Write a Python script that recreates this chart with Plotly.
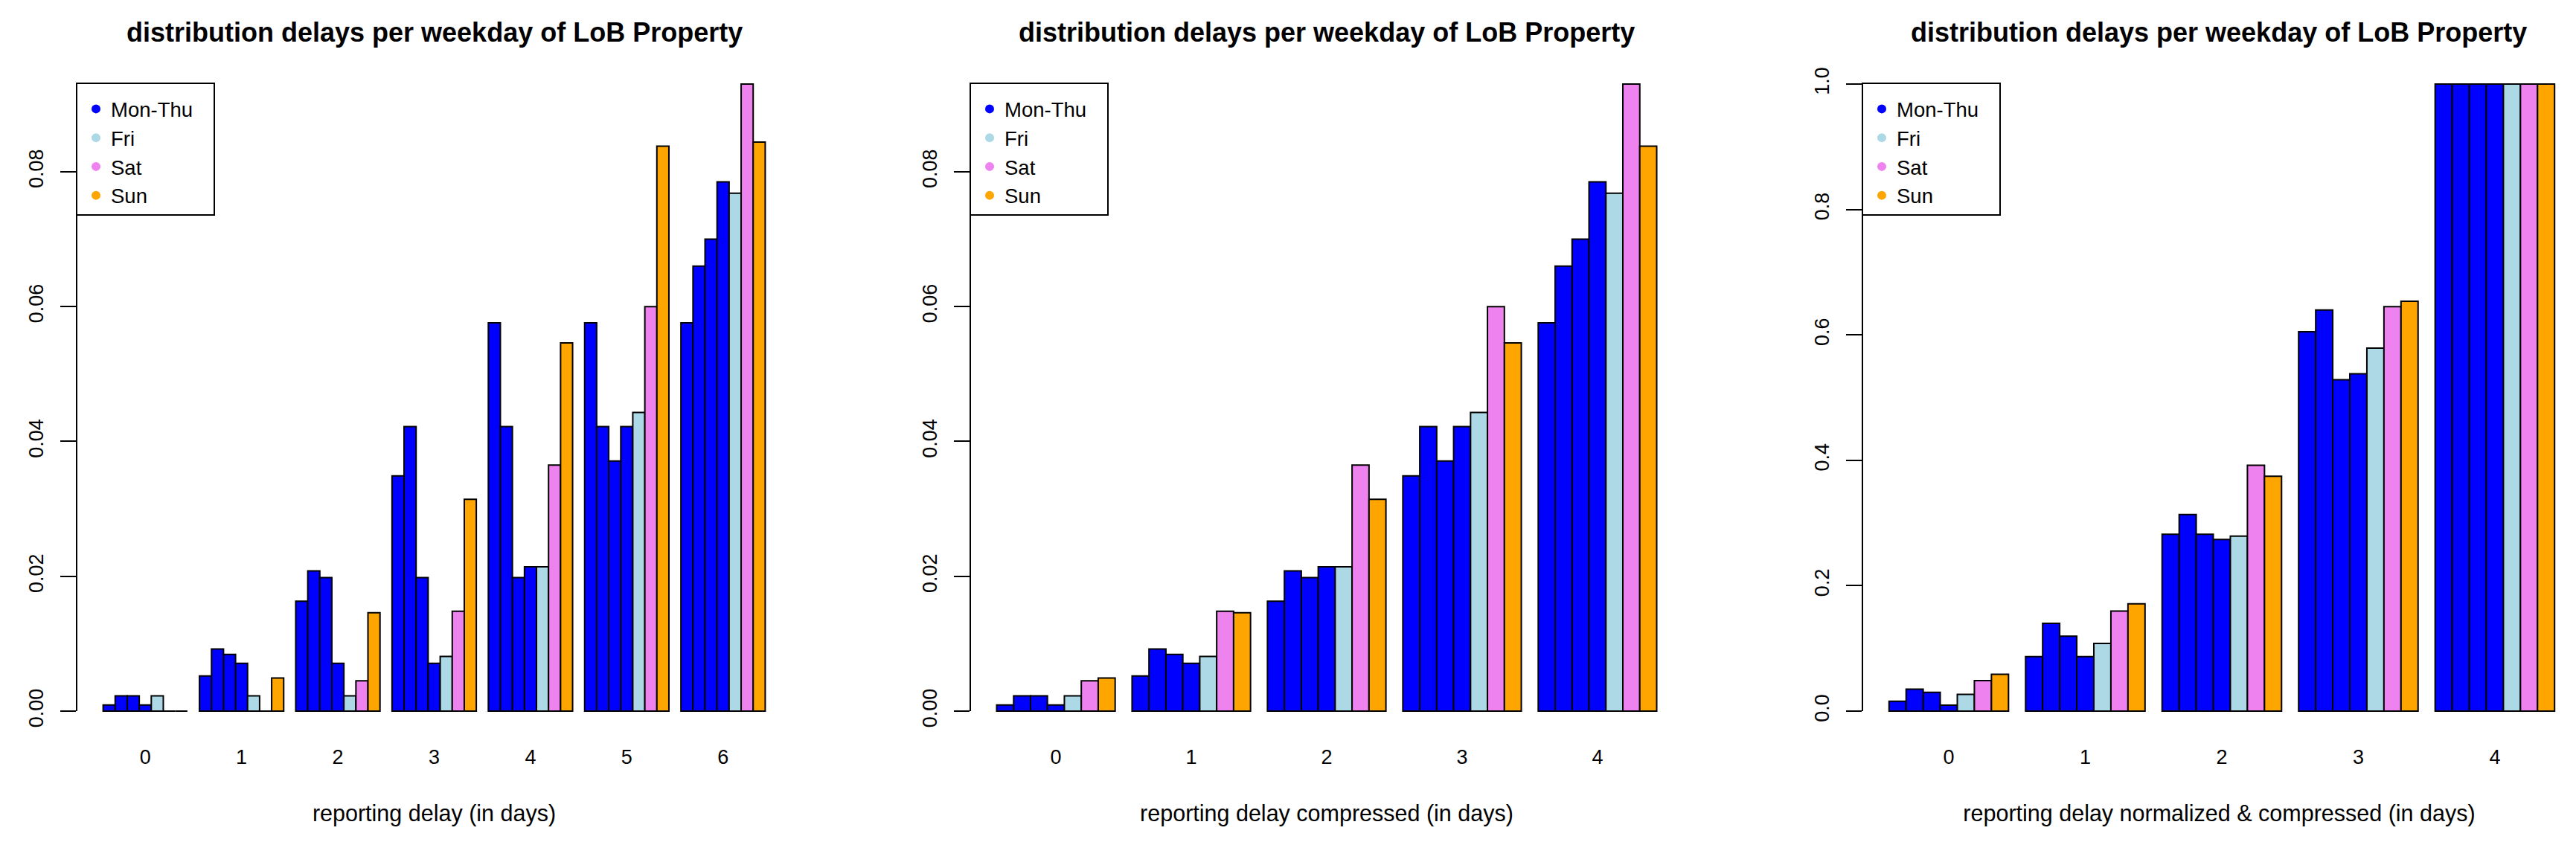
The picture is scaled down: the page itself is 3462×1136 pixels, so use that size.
import plotly.graph_objects as go

# ---------------- data ----------------
delay_days = [0, 1, 2, 3, 4, 5, 6]
compressed_days = [0, 1, 2, 3, 4]

weekday_names = ["Mon", "Tue", "Wed", "Thu", "Fri", "Sat", "Sun"]
weekday_colors = ["blue", "blue", "blue", "blue", "lightblue", "violet", "orange"]
legend_names = ["Mon-Thu", "Fri", "Sat", "Sun"]
legend_colors = ["blue", "lightblue", "violet", "orange"]

# panel 1: reporting delay (in days)
p1_mon = [0.0009, 0.0052, 0.0163, 0.0349, 0.0576, 0.0576, 0.0576]
p1_tue = [0.00225, 0.0092, 0.0208, 0.0422, 0.0422, 0.0422, 0.0660]
p1_wed = [0.00225, 0.0084, 0.0198, 0.0198, 0.0198, 0.0371, 0.0700]
p1_thu = [0.0009, 0.0071, 0.0071, 0.0071, 0.0214, 0.0422, 0.0785]
p1_fri = [0.00225, 0.00225, 0.00225, 0.0081, 0.0214, 0.0443, 0.0768]
p1_sat = [0.0, 0.0, 0.0045, 0.0148, 0.0365, 0.0600, 0.0930]
p1_sun = [0.0, 0.0049, 0.0146, 0.0314, 0.0546, 0.0838, 0.0844]

# panel 2: reporting delay compressed (in days)
p2_mon = [0.0009, 0.0052, 0.0163, 0.0349, 0.0576]
p2_tue = [0.00225, 0.0092, 0.0208, 0.0422, 0.0660]
p2_wed = [0.00225, 0.0084, 0.0198, 0.0371, 0.0700]
p2_thu = [0.0009, 0.0071, 0.0214, 0.0422, 0.0785]
p2_fri = [0.00225, 0.0081, 0.0214, 0.0443, 0.0768]
p2_sat = [0.0045, 0.0148, 0.0365, 0.0600, 0.0930]
p2_sun = [0.0049, 0.0146, 0.0314, 0.0546, 0.0838]

# panel 3: reporting delay normalized & compressed (in days)
p3_mon = [0.0156, 0.0868, 0.282, 0.605, 1.0]
p3_tue = [0.035, 0.140, 0.3135, 0.6396, 1.0]
p3_wed = [0.030, 0.1196, 0.282, 0.5285, 1.0]
p3_thu = [0.0094, 0.0868, 0.2736, 0.538, 1.0]
p3_fri = [0.0266, 0.108, 0.279, 0.579, 1.0]
p3_sat = [0.0485, 0.1595, 0.392, 0.645, 1.0]
p3_sun = [0.0586, 0.171, 0.3745, 0.6536, 1.0]

p12_yticks = [0.0, 0.02, 0.04, 0.06, 0.08]
p12_yticklabels = ["0.00", "0.02", "0.04", "0.06", "0.08"]
p3_yticks = [0.0, 0.2, 0.4, 0.6, 0.8, 1.0]
p3_yticklabels = ["0.0", "0.2", "0.4", "0.6", "0.8", "1.0"]

main_title = "distribution delays per weekday of LoB Property"
x_titles = ["reporting delay (in days)",
            "reporting delay compressed (in days)",
            "reporting delay normalized & compressed (in days)"]

# ---------------- layout constants ----------------
WIN_W, WIN_H = 3462, 1136
OFF = 8                      # default page body margin of the html page
W, H = WIN_W - OFF, WIN_H - OFF
FONT = "Arial, Liberation Sans, sans-serif"
# target positions in window pixels, converted to figure pixels
PLOT_TOP, PLOT_BOTTOM = 112 - OFF, 957 - OFF
TITLE_Y = 43 - OFF
panel_px = [(103 - OFF, 1064 - OFF), (1304 - OFF, 2262 - OFF), (2503 - OFF, 3469 - OFF)]

panels = [
    dict(cats=delay_days, series=[p1_mon, p1_tue, p1_wed, p1_thu, p1_fri, p1_sat, p1_sun],
         yt=p12_yticks, ytl=p12_yticklabels),
    dict(cats=compressed_days, series=[p2_mon, p2_tue, p2_wed, p2_thu, p2_fri, p2_sat, p2_sun],
         yt=p12_yticks, ytl=p12_yticklabels),
    dict(cats=compressed_days, series=[p3_mon, p3_tue, p3_wed, p3_thu, p3_fri, p3_sat, p3_sun],
         yt=p3_yticks, ytl=p3_yticklabels),
]

fig = go.Figure()
ydom = [1 - PLOT_BOTTOM / H, 1 - PLOT_TOP / H]
shapes, annotations = [], []
layout_axes = {}
full_w = panel_px[1][1] - panel_px[1][0]

for i, p in enumerate(panels):
    n = i + 1
    xa = "x" if n == 1 else f"x{n}"
    ya = "y" if n == 1 else f"y{n}"
    lg = "legend" if n == 1 else f"legend{n}"
    ngroups = len(p["cats"])
    # R barplot style x-limits: bar units with 4% extension
    units = ngroups * 8 - 1
    ext = 0.04 * units
    lo = (1 - ext - 4.5) / 8.0
    hi = (ngroups * 8 + ext - 4.5) / 8.0
    x0px, x1px = panel_px[i]
    if x1px >= W:  # panel cut by the image edge: keep the uncut unit scale
        ppu = (x1px - x0px) / (units + 2 * ext)
        hi = lo + (W - x0px) / ppu / 8.0
        x1px = W
    ymax = max(max(s) for s in p["series"])
    pad = ymax / (PLOT_BOTTOM - PLOT_TOP)

    for name, color, vals in zip(weekday_names, weekday_colors, p["series"]):
        fig.add_trace(go.Bar(
            x=p["cats"], y=vals, name=name,
            marker=dict(color=color, line=dict(color="black", width=2)),
            showlegend=False, xaxis=xa, yaxis=ya, hoverinfo="x+y+name"))
    for name, color in zip(legend_names, legend_colors):
        fig.add_trace(go.Scatter(
            x=[None], y=[None], mode="markers", name=name,
            marker=dict(color=color, size=12),
            showlegend=True, legend=lg, xaxis=xa, yaxis=ya))

    dom = [x0px / W, x1px / W]
    layout_axes["xaxis" if n == 1 else f"xaxis{n}"] = dict(
        domain=dom, range=[lo, hi], anchor=ya, automargin=False,
        tickvals=p["cats"], ticktext=[str(c) for c in p["cats"]],
        ticks="", showline=False, showgrid=False, zeroline=False,
        tickfont=dict(size=27, color="black", family=FONT),
        ticklabelstandoff=42,
        title=dict(text=x_titles[i], font=dict(size=30.5, color="black", family=FONT),
                   standoff=50))
    layout_axes["yaxis" if n == 1 else f"yaxis{n}"] = dict(
        domain=ydom, range=[-pad, ymax + pad], anchor=xa, automargin=False,
        tickvals=p["yt"], ticktext=p["ytl"],
        ticks="outside", ticklen=21, tickwidth=2, tickcolor="black",
        tickangle=-90, showline=False, showgrid=False, zeroline=False,
        tickfont=dict(size=27, color="black", family=FONT),
        ticklabelstandoff=12)
    # axis line between first and last tick (R style)
    shapes.append(dict(type="line", xref=f"{xa} domain", yref=ya,
                       x0=0, x1=0, y0=p["yt"][0], y1=p["yt"][-1],
                       line=dict(color="black", width=2)))
    # legend frame
    plot_w = x1px - x0px
    box_w, box_h = 185, 177
    shapes.append(dict(type="rect", xref=f"{xa} domain", yref=f"{ya} domain",
                       x0=0, x1=box_w / plot_w, y0=1 - box_h / (PLOT_BOTTOM - PLOT_TOP), y1=1,
                       line=dict(color="black", width=2), fillcolor="rgba(0,0,0,0)"))
    layout_axes[lg] = dict(
        x=(x0px + 6) / W, y=1 - (PLOT_TOP + 10) / H, xanchor="left", yanchor="top",
        bgcolor="rgba(0,0,0,0)", borderwidth=0,
        font=dict(size=27.5, color="black", family=FONT),
        itemsizing="trace", tracegroupgap=0)
    annotations.append(dict(
        text=f"<b>{main_title}</b>", xref="paper", yref="paper",
        x=(x0px + full_w / 2) / W if n == 3 else (x0px + x1px) / 2 / W,
        y=1 - TITLE_Y / H, xanchor="center", yanchor="middle", showarrow=False,
        font=dict(size=36, color="black", family=FONT)))

fig.update_layout(
    width=W, height=H,
    margin=dict(l=0, r=0, t=0, b=0, autoexpand=False),
    paper_bgcolor="white", plot_bgcolor="white",
    barmode="group", bargap=0.125, bargroupgap=0,
    font=dict(family=FONT, color="black"),
    shapes=shapes, annotations=annotations,
    **layout_axes)

fig.write_html("out.html")
